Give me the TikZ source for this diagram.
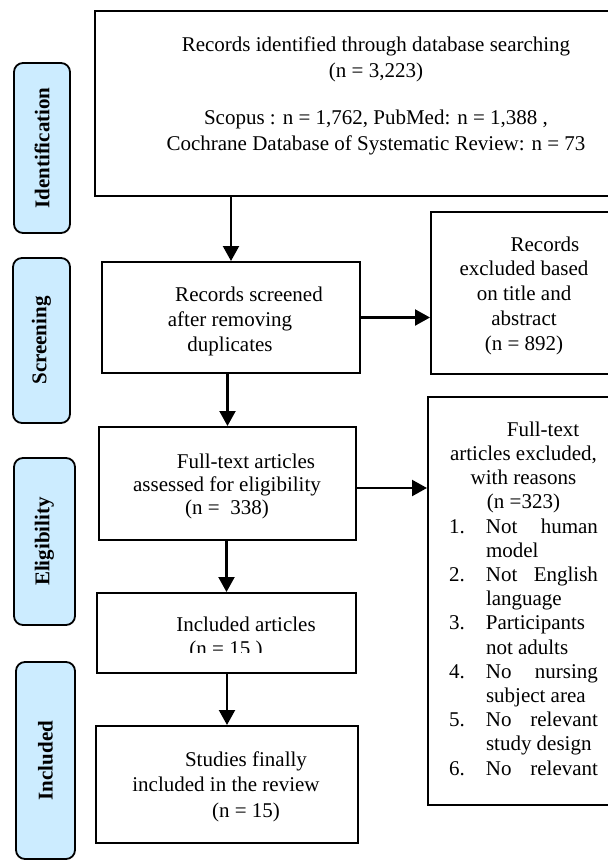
\documentclass[tikz,border=0pt]{standalone}
\usepackage{fontspec}
\setmainfont{Liberation Serif}
\usetikzlibrary{arrows.meta}
\definecolor{lblue}{RGB}{204,236,255}
\newcommand{\lit}[2]{\makebox[149pt][l]{\makebox[37pt][l]{#1}\makebox[112pt][s]{#2}}}
\newcommand{\lio}[2]{\makebox[149pt][l]{\makebox[37pt][l]{#1}#2}}
\newcommand{\lic}[1]{\makebox[149pt][l]{\hspace*{37pt}#1}}
\begin{document}
\begin{tikzpicture}[x=1pt,y=-1pt,
  box/.style={draw,line width=2pt,rectangle,inner sep=0pt},
  lab/.style={draw,line width=1.8pt,fill=lblue,rounded corners=9pt,inner sep=0pt},
  labtxt/.style={rotate=90,inner sep=0pt,font=\fontsize{21}{25}\selectfont\bfseries},
  txt/.style={align=center,inner sep=0pt,anchor=north},
  arr/.style={line width=2.2pt,-{Triangle[length=15pt,width=16pt]}}]
\clip (0,0) rectangle (608,860);
\fill[white] (0,0) rectangle (608,860);
% stage labels
\node[lab,minimum width=56pt,minimum height=170pt] (l1) at (42,148) {};
\node[labtxt] (l1t) at (l1) {Identification};
\node[lab,minimum width=57pt,minimum height=165pt] (l2) at (41.5,340.5) {};
\node[labtxt] (l2t) at (l2) {Screening};
\node[lab,minimum width=61pt,minimum height=167pt] (l3) at (44.5,541.5) {};
\node[labtxt] (l3t) at (l3) {Eligibility};
\node[lab,minimum width=59pt,minimum height=197pt] (l4) at (45.5,760.5) {};
\node[labtxt] (l4t) at (l4) {Included};
% boxes
\node[box,minimum width=562pt,minimum height=185pt] (top) at (376,103.5) {};
\node[box,minimum width=258pt,minimum height=111pt] (scr) at (231,317.5) {};
\node[box,minimum width=186pt,minimum height=162pt] (exc) at (524,293) {};
\node[box,minimum width=257pt,minimum height=113pt] (ft) at (227.5,483.5) {};
\node[box,minimum width=190pt,minimum height=408pt] (ex2) at (523,601) {};
\node[box,minimum width=259pt,minimum height=80pt] (inc) at (226.5,633) {};
\node[box,minimum width=262pt,minimum height=117pt] (stu) at (227,784.5) {};
% texts
\node[txt,font=\fontsize{21}{26}\selectfont] (topt) at (376,37)
  {Records identified through database searching\\(n = 3,223)\\[21pt]
   Scopus : n = 1,762, PubMed: n = 1,388 ,\\Cochrane Database of Systematic Review: n = 73};
\node[txt,font=\fontsize{21}{25}\selectfont] (scrt) at (230,286.5)
  {\hspace*{38pt}Records screened\\after removing\\duplicates};
\node[txt,font=\fontsize{21}{24.7}\selectfont] (exct) at (524,236.5)
  {\hspace*{42pt}Records\\excluded based\\on title and\\abstract\\(n = 892)};
\node[txt,font=\fontsize{21}{23}\selectfont] (ftt) at (227,453.5)
  {\hspace*{38pt}Full-text articles\\assessed for eligibility\\(n =\ \ 338)};
\node[txt,font=\fontsize{21}{24.2}\selectfont] (ex2t) at (523.5,421.5)
  {\hspace*{39pt}Full-text\\articles excluded,\\with reasons\\(n =323)\\
   \lit{1.}{Not human}\\\lic{model}\\\lit{2.}{Not English}\\\lic{language}\\
   \lio{3.}{Participants}\\\lic{not adults}\\\lit{4.}{No nursing}\\\lic{subject area}\\
   \lit{5.}{No relevant}\\\lic{study design}\\\lit{6.}{No relevant}};
\begin{scope}
\clip (0,0) rectangle (608,652);
\node[txt,font=\fontsize{21}{24}\selectfont] (inct) at (226,616.5)
  {\hspace*{40pt}Included articles\\(n = 15 )};
\end{scope}
\node[txt,font=\fontsize{21}{25.5}\selectfont] (stut) at (226,751.5)
  {\hspace*{40pt}Studies finally\\included in the review\\\hspace*{40pt}(n = 15)};
% arrows
\draw[arr] (top.south -| scr) -- (scr.north);
\draw[arr] (scr.east) -- (scr.east -| exc.west);
\draw[arr] (scr.south -| ft) -- (ft.north);
\draw[arr] ([yshift=-4.5pt]ft.east) -- ([yshift=-4.5pt]ft.east -| ex2.west);
\draw[arr] (ft.south -| inc) -- (inc.north);
\draw[arr] (inc.south -| stu) -- (stu.north);
\end{tikzpicture}
\end{document}
